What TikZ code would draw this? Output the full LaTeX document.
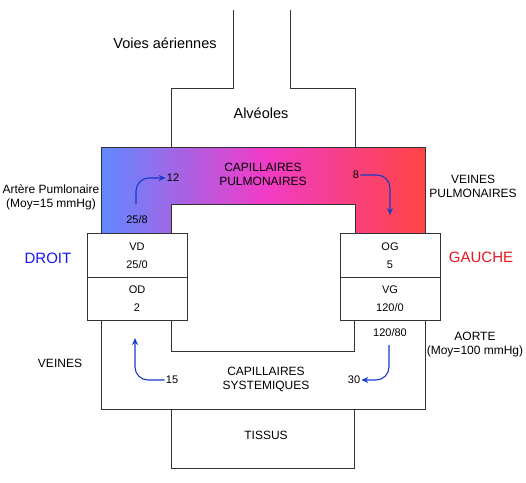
\documentclass[tikz,border=0pt]{standalone}
\usepackage{fontspec}
\setmainfont{Liberation Sans}
\usetikzlibrary{arrows.meta}
\definecolor{veinblue}{RGB}{96,137,255}
\definecolor{capmagenta}{RGB}{240,60,200}
\definecolor{artred}{RGB}{255,68,68}
\definecolor{flowblue}{RGB}{20,60,200}
\definecolor{droitblue}{RGB}{20,20,250}
\definecolor{gauchered}{RGB}{232,20,30}
\begin{document}
\begin{tikzpicture}[x=1pt, y=-1pt,
    wall/.style={draw=black!80, line width=0.8pt},
    lbl/.style={font=\fontsize{12}{14}\selectfont, align=center, inner sep=1pt},
    num/.style={font=\fontsize{11}{13}\selectfont, inner sep=1pt},
    big/.style={font=\fontsize{14.5}{16}\selectfont, inner sep=1pt},
    side/.style={font=\fontsize{15}{17}\selectfont, inner sep=1pt},
    chamber/.style={wall, fill=white, minimum width=100pt, minimum height=43.5pt,
        font=\fontsize{11}{18}\selectfont, align=center, inner sep=0pt},
    flow/.style={draw=flowblue, line width=1.1pt, rounded corners=13pt,
        -{Stealth[length=7pt,width=6pt]}}]
        \useasboundingbox (0,0) rectangle (526,482);

        % airways and alveoles
        \draw[wall] (233,10) -- (233,88) -- (171.5,88) -- (171.5,147);
        \draw[wall] (290,10) -- (290,88) -- (355,88) -- (355,147);
        \node[big] (voies) at (165,43) {Voies aériennes};
        \node[big] (alv) at (261,113) {Alvéoles};

        % pulmonary capillaries (coloured band)
        \path[left color=veinblue, right color=artred, middle color=capmagenta]
            (101,147) -- (425,147) -- (425,234) -- (355,234) -- (355,204)
            -- (171.5,204) -- (171.5,234) -- (101,234) -- cycle;
        \draw[wall] (101,234) -- (101,147) -- (425,147) -- (425,234);
        \draw[wall] (171.5,234) -- (171.5,204) -- (355,204) -- (355,234);

        % systemic loop and tissues
        \draw[wall] (101,321) -- (101,409) -- (425,409) -- (425,321);
        \draw[wall] (171.5,321) -- (171.5,351) -- (354,351) -- (354,321);
        \draw[wall] (171.5,409) -- (171.5,468) -- (354,468) -- (354,409);

        % heart chambers
        \node[chamber] (vd) at (137,255.5) {VD\\25/0};
        \node[chamber, anchor=north] (od) at ([yshift=0.8pt]vd.south) {OD\\2};
        \node[chamber] (og) at (390,255.5) {OG\\5};
        \node[chamber, anchor=north] (vg) at ([yshift=0.8pt]og.south) {VG\\120/0};

        % labels
        \node[side, text=droitblue] (droit) at (48,258) {DROIT};
        \node[side, text=gauchered] (gauche) at (481,257) {GAUCHE};
        \node[lbl] (artp) at (51,197) {Artère Pumlonaire\\(Moy=15 mmHg)};
        \node[lbl] (veinp) at (473,186.5) {VEINES\\PULMONAIRES};
        \node[lbl] (capp) at (263,174.5) {CAPILLAIRES\\PULMONAIRES};
        \node[lbl] (caps) at (266,379.5) {CAPILLAIRES\\SYSTEMIQUES};
        \node[lbl] (tissus) at (266,435) {TISSUS};
        \node[lbl] (veines) at (60,363) {VEINES};
        \node[lbl] (aorte) at (475,344.5) {AORTE\\(Moy=100 mmHg)};

        % pressures
        \node[num] (p258) at (137,220) {25/8};
        \node[num] (p12) at (173,178) {12};
        \node[num] (p8) at (356,175) {8};
        \node[num] (p12080) at (390,333) {120/80};
        \node[num] (p15) at (172,380) {15};
        \node[num] (p30) at (354,380) {30};

        % blood flow arrows
        \coordinate (f1) at (136,204);
        \coordinate (f2) at (390,215);
        \coordinate (f3) at (135,338);
        \coordinate (f4) at (389,345);
        \draw[flow] (f1) |- (p12.west);
        \draw[flow] (p8.east) -| (f2);
        \draw[flow] (p15.west) -| (f3);
        \draw[flow] (f4) |- (p30.east);
\end{tikzpicture}
\end{document}
